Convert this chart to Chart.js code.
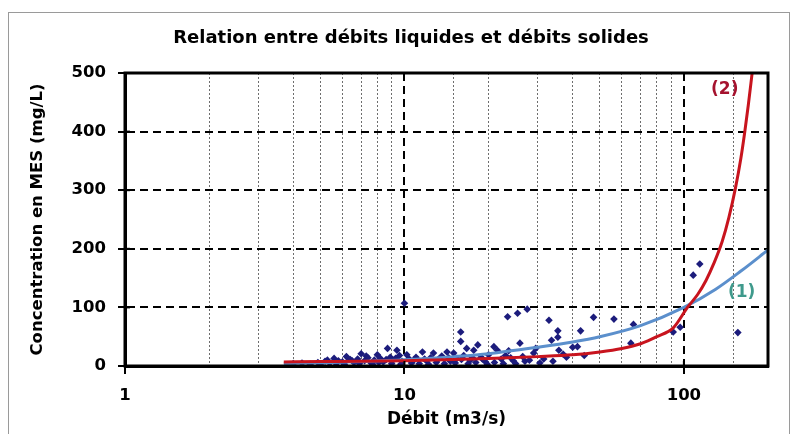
<!DOCTYPE html>
<html>
<head>
<meta charset="utf-8">
<script src="https://cdn.jsdelivr.net/npm/chart.js@4.4.1/dist/chart.umd.min.js"></script>
<style>
  html, body { margin: 0; padding: 0; background: #fff; }
  #wrap { width: 799px; height: 434px; }
</style>
</head>
<body>
<div id="wrap"><canvas id="myChart" width="799" height="434"></canvas></div>
<script>
// Measured discharges (m3/s) and suspended matter concentrations (mg/L)
const debits = [
  4.0, 4.3, 4.6, 4.9, 5.0, 5.2, 5.3, 5.4, 5.6, 5.7, 5.8, 6.0, 6.1, 6.2, 6.4, 6.5, 6.6, 6.8, 6.9, 7.0,
  7.2, 7.3, 7.4, 7.6, 7.7, 7.8, 8.0, 8.1, 8.2, 8.4, 8.6, 8.7, 8.9, 9.0, 9.1, 9.3, 9.4, 9.6, 9.7, 9.8,
  10.0, 10.2, 10.4, 10.6, 10.8,
  11.0, 11.3, 11.6, 11.8, 12.0, 12.2, 12.4, 12.7, 13.0, 13.2, 13.6, 13.9, 14.2, 14.4, 14.6, 15.0, 15.2,
  15.4, 15.9, 15.9, 16.0, 16.3, 16.7, 16.9, 17.2, 17.5, 17.7, 18.0, 18.3, 18.8, 19.0, 19.4, 19.8, 20.0,
  20.9, 21.0, 21.5, 22.2, 22.6, 23.0, 23.4, 23.6, 24.0, 24.5, 25.0, 25.4, 25.9, 26.5, 27.0, 27.5, 28.0,
  29.0, 29.5, 30.5, 31.5,
  32.9, 33.6, 34.0, 35.4, 35.4, 35.7, 37.0, 38.0, 40.0, 41.6, 42.7, 44.0, 47.5, 56.2, 64.6, 66.0,
  91.6, 97.0, 108.0, 114.0, 156.0
];
const concentrations = [
  4, 5, 3, 6, 2, 8, 10, 5, 13, 4, 9, 7, 3, 16, 11, 9, 6, 12, 4, 21,
  9, 17, 14, 5, 3, 10, 19, 6, 13, 7, 11, 30, 15, 4, 10, 13, 27, 18, 3, 8,
  107, 19, 12, 5, 10,
  15, 4, 24, 12, 9, 3, 14, 22, 6, 11, 17, 4, 24, 14, 8, 22, 5,
  13, 58, 42, 11, 18, 30, 4, 10, 14, 27, 6, 36, 15, 12, 8, 3, 19,
  33, 6, 27, 12, 4, 18, 84, 26, 14, 9, 4, 90, 39, 16, 8, 97, 10,
  22, 30, 5, 12,
  78, 44, 8, 60, 49, 27, 20, 15, 32, 33, 60, 18, 83, 80, 39, 71,
  58, 66, 155, 174, 57
];

// Relation (1)
const courbe1Debits = [3.7, 5, 7, 10, 15, 20, 30, 40, 50, 70, 100, 130, 160, 200];
const courbe1Conc = [4, 5.5, 7.5, 10.5, 16, 21, 32, 41, 50, 69, 100, 131, 162, 198];

// Relation (2)
const courbe2Debits = [3.7, 5, 7, 10, 15, 20, 30, 40, 50, 60, 70, 80, 92, 103, 112, 120, 128, 137, 145, 153, 160, 165, 170, 175.5];
const courbe2Conc = [7, 7.5, 8, 9, 11, 13, 16, 19, 24, 30, 38, 50, 66, 100, 122, 146, 175, 212, 254, 304, 355, 398, 445, 500];

const xTickLabels = [1, 10, 100];
const yMin = 0, yMax = 500, yStep = 100;

const chartTitle = 'Relation entre débits liquides et débits solides';

// where the curve labels sit (data units)
const label1 = { x: 161, y: 125, text: '(1)', color: '#3f9a8c' };
const label2 = { x: 140, y: 471, text: '(2)', color: '#a5122e' };

const FONT = 'DejaVu Sans, sans-serif';

function toXY(xs, ys) {
  return xs.map((x, i) => ({ x: x, y: ys[i] }));
}

function isDecade(v) {
  const l = Math.log10(v);
  return Math.abs(l - Math.round(l)) < 1e-9;
}

// outer frame, title, plot box, inner tick marks and curve labels
const decorations = {
  id: 'decorations',
  afterDraw(chart) {
    const { ctx, chartArea: a, scales } = chart;
    ctx.save();
    ctx.strokeStyle = '#9a9a9a';
    ctx.lineWidth = 1;
    ctx.strokeRect(8.5, 12.5, 781, 440);

    ctx.fillStyle = '#000';
    ctx.font = 'bold 18px ' + FONT;
    ctx.textAlign = 'center';
    ctx.textBaseline = 'middle';
    ctx.fillText(chartTitle, 411, 38);

    ctx.strokeStyle = '#000';
    ctx.lineWidth = 2;
    ctx.setLineDash([]);
    scales.y.ticks.forEach(t => {
      const py = scales.y.getPixelForValue(t.value);
      ctx.beginPath();
      ctx.moveTo(a.left, py);
      ctx.lineTo(a.left + 5, py);
      ctx.stroke();
    });
    scales.x.ticks.forEach(t => {
      if (!isDecade(t.value)) return;
      const px = scales.x.getPixelForValue(t.value);
      ctx.beginPath();
      ctx.moveTo(px, a.bottom);
      ctx.lineTo(px, a.bottom - 5);
      ctx.stroke();
    });

    ctx.lineWidth = 3;
    ctx.strokeRect(a.left, a.top, a.right - a.left, a.bottom - a.top);

    ctx.font = 'bold 17px ' + FONT;
    [label1, label2].forEach(l => {
      ctx.fillStyle = l.color;
      ctx.fillText(l.text, scales.x.getPixelForValue(l.x), scales.y.getPixelForValue(l.y));
    });
    ctx.restore();
  }
};

const ctx = document.getElementById('myChart').getContext('2d');
const myChart = new Chart(ctx, {
  type: 'scatter',
  data: {
    datasets: [
      {
        label: '(2)',
        data: toXY(courbe2Debits, courbe2Conc),
        showLine: true,
        borderColor: '#c8141e',
        borderWidth: 3,
        pointRadius: 0,
        cubicInterpolationMode: 'monotone'
      },
      {
        label: '(1)',
        data: toXY(courbe1Debits, courbe1Conc),
        showLine: true,
        borderColor: '#5b8fcc',
        borderWidth: 3,
        pointRadius: 0,
        cubicInterpolationMode: 'monotone'
      },
      {
        label: 'Mesures',
        data: toXY(debits, concentrations),
        pointStyle: 'rectRot',
        pointRadius: 3.8,
        backgroundColor: '#1c1c7c',
        borderColor: '#1c1c7c',
        borderWidth: 0
      }
    ]
  },
  options: {
    responsive: false,
    animation: false,
    devicePixelRatio: 1,
    layout: { padding: { left: 0, right: 31, top: 73, bottom: 0 } },
    plugins: {
      legend: { display: false },
      tooltip: { enabled: false },
      title: { display: false }
    },
    scales: {
      x: {
        type: 'logarithmic',
        min: 1,
        max: 200,
        afterFit: s => { s.height = 68; },
        ticks: {
          autoSkip: false,
          maxRotation: 0,
          padding: 12,
          color: '#000',
          font: { family: FONT, size: 16.5, weight: 'bold' },
          callback: v => xTickLabels.some(t => Math.abs(t - v) < 1e-9) ? String(v) : ''
        },
        grid: {
          color: c => (c.tick && isDecade(c.tick.value)) ? '#000' : '#6e6e6e',
          lineWidth: c => (c.tick && isDecade(c.tick.value)) ? 2 : 1,
          tickColor: c => (c.tick && isDecade(c.tick.value)) ? '#000' : 'rgba(0,0,0,0)',
          tickLength: 8,
          tickWidth: 2
        },
        border: {
          color: '#000',
          width: 3,
          dash: c => c.tick ? (isDecade(c.tick.value) ? [8, 5] : [2, 2]) : []
        },
        title: {
          display: true,
          text: 'Débit (m3/s)',
          color: '#000',
          font: { family: FONT, size: 17, weight: 'bold' },
          padding: { top: 0, bottom: 4 }
        }
      },
      y: {
        min: yMin,
        max: yMax,
        afterFit: s => { s.width = 125; },
        ticks: {
          stepSize: yStep,
          padding: 12,
          color: '#000',
          font: { family: FONT, size: 16.5, weight: 'bold' }
        },
        grid: {
          color: '#000',
          lineWidth: 2,
          tickColor: '#000',
          tickLength: 7,
          tickWidth: 2
        },
        border: {
          color: '#000',
          width: 3,
          dash: c => c.tick ? [8, 5] : []
        },
        title: {
          display: true,
          text: 'Concentration en MES (mg/L)',
          color: '#000',
          font: { family: FONT, size: 16.5, weight: 'bold' },
          padding: { top: 28, bottom: 0 }
        }
      }
    }
  },
  plugins: [decorations]
});
</script>
</body>
</html>
